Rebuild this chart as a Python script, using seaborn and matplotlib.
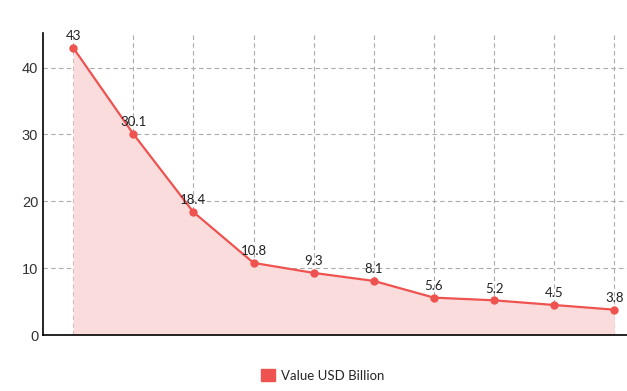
import matplotlib.pyplot as plt
import matplotlib.patches as mpatches
import seaborn as sns
import pandas as pd

positions = list(range(10))
values = [43, 30.1, 18.4, 10.8, 9.3, 8.1, 5.6, 5.2, 4.5, 3.8]
labels = ["43", "30.1", "18.4", "10.8", "9.3", "8.1", "5.6", "5.2", "4.5", "3.8"]
series_name = "Value USD Billion"

line_color = "#ef5350"
fill_color = "#fbdcdd"

sns.set_style("white")
plt.rcParams['font.family'] = ['Lato', 'DejaVu Sans']

df = pd.DataFrame({"pos": positions, "value": values})

fig = plt.figure(figsize=(6.27, 3.91), dpi=100)
ax = fig.add_axes([0.0686, 0.143, 0.94, 0.773])

ax.fill_between(df["pos"], df["value"], 0, color=fill_color, linewidth=0, zorder=1)
sns.lineplot(data=df, x="pos", y="value", ax=ax, color=line_color, linewidth=1.6,
             marker="o", markersize=6, markeredgewidth=0, zorder=3)

for x, y, t in zip(positions, values, labels):
    ax.annotate(t, (x, y), xytext=(0, 4), textcoords="offset points",
                ha="center", va="bottom", fontsize=9.5, color="#222222")

ax.set_xlim(-0.5, 9.3)
ax.set_ylim(0, 45.2)
ax.set_yticks([0, 10, 20, 30, 40])
ax.set_xticks(positions)
ax.set_xticklabels([""] * 10)
ax.set_xlabel("")
ax.set_ylabel("")
ax.tick_params(axis="both", length=0, labelsize=10.5, colors="#333333")
for lab in ax.get_yticklabels():
    lab.set_family(['Liberation Sans', 'DejaVu Sans'])

ax.grid(True, color="#aaaaaa", linestyle=(0, (4, 3)), linewidth=0.8, zorder=0)
ax.set_axisbelow(True)
for side in ["top", "right"]:
    ax.spines[side].set_visible(False)
ax.spines["left"].set_color("black")
ax.spines["bottom"].set_color("black")
ax.spines["left"].set_linewidth(1.2)
ax.spines["bottom"].set_linewidth(1.2)

handle = mpatches.Patch(color=line_color, label=series_name)
fig.legend(handles=[handle], loc="center", bbox_to_anchor=(0.515, 0.04), frameon=False,
           fontsize=9.5, handlelength=1.0, handleheight=1.0, handletextpad=0.5)

fig.savefig("out.png", dpi=100)
